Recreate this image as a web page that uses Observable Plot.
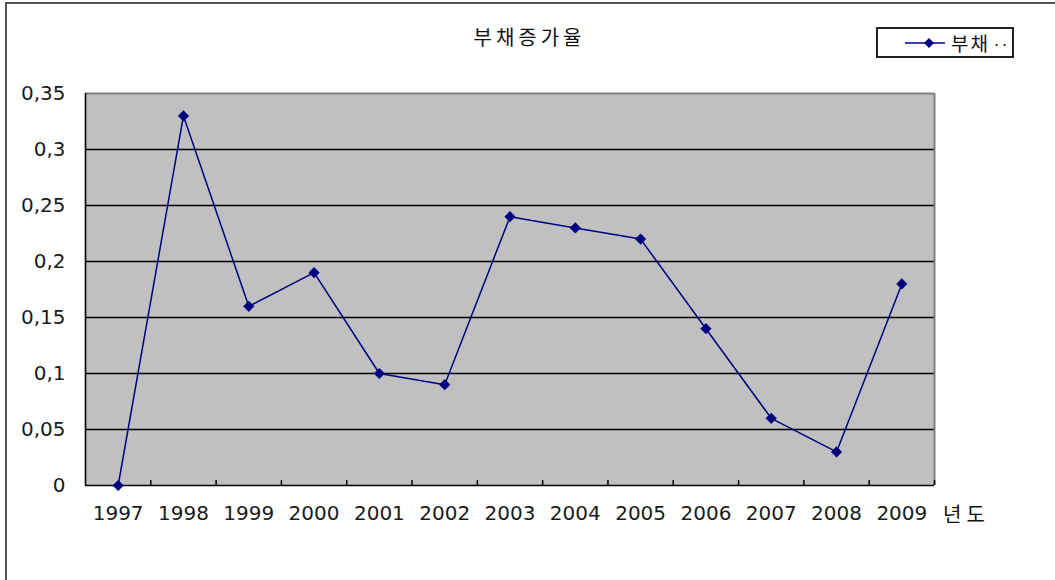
<!DOCTYPE html>
<html>
<head>
<meta charset="utf-8">
<script src="https://cdn.jsdelivr.net/npm/d3@7"></script>
<script src="https://cdn.jsdelivr.net/npm/@observablehq/plot@0.6"></script>
<style>
  body { margin: 0; background: #fff; }
  #wrap { position: relative; width: 1055px; height: 580px; overflow: hidden; font-family: "DejaVu Sans", "Noto Sans CJK KR", sans-serif; }
  #frame { position: absolute; left: 5px; top: 2px; width: 1060px; height: 590px; border-top: 2px solid #555; border-left: 2px solid #555; }
  #title { position: absolute; left: 2px; width: 1055px; top: 22px; text-align: center; font-family: "Noto Sans CJK KR", sans-serif; font-size: 20px; letter-spacing: 4px; color: #111; }
  #legend { position: absolute; left: 876px; top: 27px; width: 134px; height: 27px; border: 2px solid #222; background: #fff; }
  #legend svg { position: absolute; left: 0; top: 0; }
  #legend .lt { position: absolute; left: 73px; top: 0px; font-family: "Noto Sans CJK KR", sans-serif; font-size: 19px; line-height: 27px; color: #111; letter-spacing: 2px; white-space: nowrap; }
  #legend .dots { font-family: "DejaVu Sans", sans-serif; font-size: 16px; letter-spacing: 3px; margin-left: 4px; }
  #xunit { position: absolute; left: 943px; top: 499px; font-family: "Noto Sans CJK KR", sans-serif; font-size: 20px; letter-spacing: 5px; color: #111; }
  #chart { position: absolute; left: 0; top: 0; }
</style>
</head>
<body>
<div id="wrap">
  <div id="frame"></div>
  <div id="chart"></div>
  <div id="title">부채증가율</div>
  <div id="legend">
    <svg width="70" height="27"><line x1="27" y1="14" x2="67" y2="14" stroke="#000080" stroke-width="1.5"/><path d="M51,9 L56,14 L51,19 L46,14 Z" fill="#000080"/></svg>
    <span class="lt">부채<span class="dots">··</span></span>
  </div>
  <div id="xunit">년도</div>
</div>
<script>
const years = ["1997","1998","1999","2000","2001","2002","2003","2004","2005","2006","2007","2008","2009"];
const values = [0, 0.33, 0.16, 0.19, 0.10, 0.09, 0.24, 0.23, 0.22, 0.14, 0.06, 0.03, 0.18];
const yTicks = [0, 0.05, 0.1, 0.15, 0.2, 0.25, 0.3, 0.35];
const seriesName = "부채증가율";

const data = years.map((y, i) => ({pos: i + 0.5, year: y, value: values[i]}));
const boundaries = d3.range(1, years.length + 1);
const centers = data.map(d => d.pos);

const marginTop = 93, marginBottom = 95, H = 580;
const plotH = H - marginTop - marginBottom;

const chart = Plot.plot({
  width: 1055,
  height: H,
  marginLeft: 85,
  marginRight: 121,
  marginTop,
  marginBottom,
  style: {fontSize: "20px", fontFamily: "'DejaVu Sans', 'Noto Sans CJK KR', sans-serif", color: "#1a1a1a", background: "transparent"},
  x: {type: "linear", domain: [0, years.length], axis: null},
  y: {domain: [0, 0.35], axis: null},
  marks: [
    Plot.frame({fill: "#c0c0c0", stroke: null}),
    Plot.ruleY(yTicks.filter(t => t > 0 && t < 0.35), {stroke: "#000", strokeWidth: 1.3}),
    Plot.ruleY([0.35], {stroke: "#808080", strokeWidth: 2}),
    Plot.ruleX([years.length], {stroke: "#808080", strokeWidth: 2}),
    Plot.ruleX([0], {stroke: "#000", strokeWidth: 1.6}),
    Plot.ruleY([0], {stroke: "#000", strokeWidth: 1.6}),
    Plot.tickX(boundaries, {x: d => d, stroke: "#000", strokeWidth: 1.5, insetTop: plotH - 5}),
    Plot.axisY({ticks: yTicks, tickSize: 0, tickPadding: 20, label: null, tickFormat: d => String(d).replace(".", ",")}),
    Plot.axisX({ticks: centers, tickSize: 0, tickPadding: 20, label: null, tickFormat: d => years[Math.round(d - 0.5)]}),
    Plot.line(data, {x: "pos", y: "value", stroke: "#000080", strokeWidth: 1.5}),
    Plot.dot(data, {x: "pos", y: "value", symbol: "diamond2", r: 4.8, fill: "#000080", stroke: "#000080", strokeWidth: 0.5, title: d => `${seriesName} ${d.year}: ${d.value}`})
  ]
});
document.getElementById("chart").appendChild(chart);
</script>
</body>
</html>
